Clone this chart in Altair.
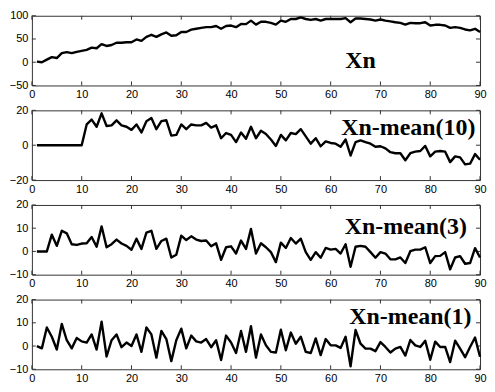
import altair as alt
import pandas as pd

n_values = list(range(1, 91))

xn = [1.4, 0, 5.6, 11, 9, 19.5, 21.7, 19.5, 22.4, 24.5,
      26.6, 31.5, 30, 39, 35, 37, 42, 42, 43, 43,
      49, 46, 54.5, 59, 54.5, 60, 64, 57, 58, 65,
      65, 70, 72, 74, 75.5, 75.5, 78, 72, 78, 79,
      75.5, 82.5, 82, 89.5, 81, 87, 87, 84.6, 81, 89.5,
      87, 93, 93, 96.5, 93, 91, 93, 89.5, 93, 93,
      93, 93, 95, 86, 94, 94, 93, 92, 89.5, 92,
      89.5, 88, 86, 84.6, 81, 84.6, 84, 84, 86, 79,
      80.5, 80.5, 79, 74, 75.5, 74, 70.5, 68.5, 72, 65]

xn_mean10 = [0, 0, 0, 0, 0, 0, 0, 0, 0, 0,
             11.9, 14.7, 10.6, 18.3, 11, 11.4, 14.3, 11.4, 10.6, 8.8,
             11.9, 7.3, 13.8, 15.6, 9.2, 13.8, 14.3, 5.5, 5.9, 11.9,
             9.2, 11.9, 11.4, 11.4, 12.8, 10.1, 11.4, 4, 7, 5.9,
             1.8, 7.3, 3.7, 10.6, 4, 8.3, 6.4, 3.3, -0.4, 5.9,
             2.8, 7, 6.4, 9.2, 5.1, 0.9, 4, -0.6, 2.2, 1.3,
             0.9, -0.9, 3.3, -5.9, 1.8, 2.8, 1.8, 0.9, -0.9, -0.6,
             -1.8, -4, -4.6, -4.6, -8.6, -4.6, -3.7, -3.3, -0.4, -6.4,
             -3.7, -3.3, -3.7, -9.7, -6.4, -7, -11, -10.6, -5.1, -8.3]

xn_mean3 = [0, 0, 0, 7.2, 2.4, 8.9, 7.8, 3.1, 2.8, 3.4,
            3.5, 6.2, 2, 10.8, 1.8, 3.1, 5.1, 3.4, 2.4, 0.7,
            5.5, 1.1, 8.1, 8.9, 1.1, 4.5, 5.5, -2.6, -1.4, 6.8,
            4.9, 6.5, 5.1, 4.5, 4.7, 2.2, 3.5, -3.6, 1.8, 2.2,
            -0.9, 4.7, 1.1, 9.7, -0.9, 3.5, 1.8, -0.3, -4.6, 3.8,
            1.5, 5.8, 3.4, 5.5, -0.3, -3.6, -0.3, -2.7, 1.5, 0.8,
            1.1, -0.9, 3.1, -6.6, 2, 2.4, 2, -0.3, -2.7, -0.3,
            -0.9, -3.4, -3.4, -2.6, -5, 0.1, 0.8, 0.8, 1.8, -5,
            -2, -1.9, -0.3, -7.7, -2.6, -2, -5.3, -5, 1.4, -2.6]

xn_mean1 = [0, -1, 8, 4, -1.5, 9.5, 2.5, -1, 3.5, 2,
            1.5, 5, -1.5, 10.5, -4.5, 2.5, 5, -0.5, 1.5, 0,
            5, -2.5, 8, 5, -5, 6.5, 3, -6.5, 2.5, 7.5,
            -1, 4.5, 2, 1.5, 3, -0.5, 2.5, -6, 4.5, 1.5,
            -3, 6.5, -2.5, 8.5, -5, 5, 0.3, -2.5, -2.8, 7,
            -1.8, 5.8, 1, 4, -2.5, -3, 3.3, -3.9, 3, 0.3,
            0.3, -0.8, 4, -8.7, 6.9, 1, -1.1, -1.1, -2.2, 1.7,
            -0.4, -2.8, -1.1, -0.4, -4.1, 2.6, 0.3, -0.4, 2.3, -5.9,
            1.9, -0.4, -0.4, -6.9, 2.3, -1.1, -4.8, -0.4, 3.7, -4.6]

x_ticks = [0, 10, 20, 30, 40, 50, 60, 70, 80, 90]
panel_titles = ["Xn", "Xn-mean(10)", "Xn-mean(3)", "Xn-mean(1)"]
y_domains = [[-50, 100], [-20, 20], [-10, 20], [-10, 20]]
y_ticks = [[-50, 0, 50, 100], [-20, 0, 20], [-10, 0, 10, 20], [-10, 0, 10, 20]]
label_x = [66, 75.6, 75.1, 76]
label_y = [3, 9.6, 10.3, 12.4]
label_sizes = [24, 24, 24, 24]
series = [xn, xn_mean10, xn_mean3, xn_mean1]

W, H = 450, 70
TICK = 4
BOX = "#333333"


def panel(i):
    df = pd.DataFrame({"n": n_values, "v": series[i]})
    xs = alt.Scale(domain=[0, 90], nice=False, zero=False)
    ys = alt.Scale(domain=y_domains[i], nice=False, zero=False)
    xax = alt.Axis(values=x_ticks, title=None)
    yax = alt.Axis(values=y_ticks[i], title=None)

    line = alt.Chart(df).mark_line(
        color="black", strokeWidth=2.4, strokeJoin="round"
    ).encode(
        x=alt.X("n:Q", scale=xs, axis=xax),
        y=alt.Y("v:Q", scale=ys, axis=yax),
    )

    xt = pd.DataFrame({"t": x_ticks})
    yt = pd.DataFrame({"t": y_ticks[i]})
    xb = alt.Chart(xt).mark_rule(color=BOX, strokeWidth=1).encode(
        x=alt.X("t:Q", scale=xs, axis=xax), y=alt.value(H), y2=alt.value(H - TICK))
    xtop = alt.Chart(xt).mark_rule(color=BOX, strokeWidth=1).encode(
        x=alt.X("t:Q", scale=xs, axis=xax), y=alt.value(0), y2=alt.value(TICK))
    yl = alt.Chart(yt).mark_rule(color=BOX, strokeWidth=1).encode(
        y=alt.Y("t:Q", scale=ys, axis=yax), x=alt.value(0), x2=alt.value(TICK))
    yr = alt.Chart(yt).mark_rule(color=BOX, strokeWidth=1).encode(
        y=alt.Y("t:Q", scale=ys, axis=yax), x=alt.value(W - TICK), x2=alt.value(W))

    lab = pd.DataFrame({"x": [label_x[i]], "y": [label_y[i]], "label": [panel_titles[i]]})
    text = alt.Chart(lab).mark_text(
        font="Liberation Serif", fontWeight="bold", fontSize=label_sizes[i],
        align="center", baseline="middle", color="black"
    ).encode(
        x=alt.X("x:Q", scale=xs, axis=xax),
        y=alt.Y("y:Q", scale=ys, axis=yax),
        text="label:N",
    )

    return alt.layer(xb, xtop, yl, yr, line, text).properties(width=W, height=H)


chart = alt.vconcat(*[panel(i) for i in range(4)], spacing=25, bounds="flush").properties(
    padding={"left": 0, "top": 0, "right": 0, "bottom": 0}
).configure_view(
    stroke=BOX, strokeWidth=1
).configure_axis(
    domain=False, ticks=False, grid=False,
    labelFont="Liberation Sans", labelFontSize=11, labelColor="black",
    labelFlush=False, labelOverlap=False, labelPadding=3,
).configure_axisY(labelPadding=4)

chart.save("out.html", embed_options={"renderer": "svg", "actions": False})
